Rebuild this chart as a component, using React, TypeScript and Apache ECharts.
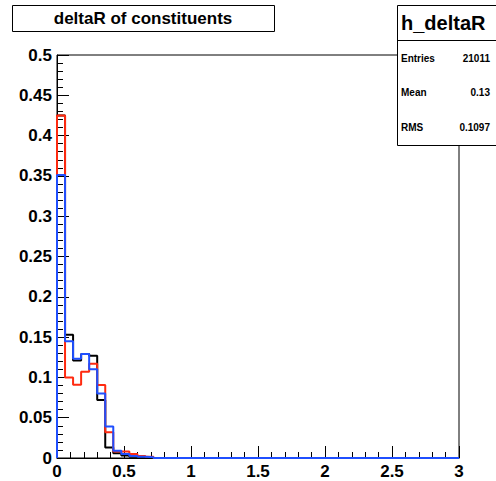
import React, { useEffect, useRef } from "react";
import * as echarts from "echarts";

// Histogram binning: 50 bins of width 0.06 over [0, 3]
const binWidth = 0.06;
const binCount = 50;

// Bin contents (normalised) for the three constituent samples
const blackCounts = [
  0.425, 0.153, 0.121, 0.129, 0.127, 0.072, 0.013, 0.006, 0.003, 0.0015,
  0.001, 0, 0, 0, 0, 0, 0, 0, 0, 0,
  0, 0, 0, 0, 0, 0, 0, 0, 0, 0,
  0, 0, 0, 0, 0, 0, 0, 0, 0, 0,
  0, 0, 0, 0, 0, 0, 0, 0, 0, 0,
];
const redCounts = [
  0.425, 0.1, 0.091, 0.107, 0.117, 0.0906, 0.032, 0.008, 0.008, 0.005,
  0.0025, 0.0015, 0, 0, 0, 0, 0, 0, 0, 0,
  0, 0, 0, 0, 0, 0, 0, 0, 0, 0,
  0, 0, 0, 0, 0, 0, 0, 0, 0, 0,
  0, 0, 0, 0, 0, 0, 0, 0, 0, 0,
];
const blueCounts = [
  0.351, 0.145, 0.123, 0.129, 0.11, 0.08, 0.039, 0.009, 0.005, 0.0025,
  0.0015, 0.001, 0, 0, 0, 0, 0, 0, 0, 0,
  0, 0, 0, 0, 0, 0, 0, 0, 0, 0,
  0, 0, 0, 0, 0, 0, 0, 0, 0, 0,
  0, 0, 0, 0, 0, 0, 0, 0, 0, 0,
];

const titleText = "deltaR of constituents";
const statsName = "h_deltaR";
const statsRows = [
  ["Entries", "21011"],
  ["Mean", "0.13"],
  ["RMS", "0.1097"],
];

const FONT = "Liberation Sans, Arial, Helvetica, sans-serif";

// Turn bin contents into step-line points: [left edge, content] plus closing edge
function stepPoints(counts: number[]): number[][] {
  const pts: number[][] = [[0, 0]];
  for (let i = 0; i < binCount; i++) {
    pts.push([+(i * binWidth).toFixed(4), counts[i]]);
  }
  pts.push([binCount * binWidth, counts[binCount - 1]]);
  return pts;
}

function histSeries(counts: number[], color: string, z: number) {
  return {
    type: "line",
    step: "end",
    data: stepPoints(counts),
    symbol: "none",
    lineStyle: { color, width: 2 },
    z,
    silent: true,
  };
}

export default function App() {
  const ref = useRef<HTMLDivElement>(null);

  useEffect(() => {
    document.body.style.margin = "0";
    if (!ref.current) return;
    const chart = echarts.init(ref.current, null, { renderer: "svg" });

    const statsGraphics: any[] = [
      {
        type: "rect",
        shape: { x: 397.5, y: 5.5, width: 110, height: 140 },
        style: { fill: "#fff", stroke: "#000", lineWidth: 1 },
        z: 100,
      },
      {
        type: "line",
        shape: { x1: 397.5, y1: 40.5, x2: 500, y2: 40.5 },
        style: { stroke: "#000", lineWidth: 1 },
        z: 101,
      },
      {
        type: "text",
        x: 401,
        y: 23,
        style: {
          text: statsName,
          font: `bold 20px ${FONT}`,
          fill: "#000",
          verticalAlign: "middle",
        },
        z: 101,
      },
    ];
    const rowY = [58, 92, 127];
    statsRows.forEach((row, i) => {
      statsGraphics.push({
        type: "text",
        x: 401,
        y: rowY[i],
        style: {
          text: row[0],
          font: `bold 10px ${FONT}`,
          fill: "#000",
          verticalAlign: "middle",
        },
        z: 101,
      });
      statsGraphics.push({
        type: "text",
        x: 490,
        y: rowY[i],
        style: {
          text: row[1],
          font: `bold 10px ${FONT}`,
          fill: "#000",
          align: "right",
          verticalAlign: "middle",
        },
        z: 101,
      });
    });

    chart.setOption({
      animation: false,
      backgroundColor: "#fff",
      grid: {
        left: 57,
        top: 55,
        right: 37,
        bottom: 23,
        show: true,
        borderColor: "#000",
        borderWidth: 1,
        outerBoundsMode: "none",
      },
      xAxis: {
        type: "value",
        min: 0,
        max: 3,
        interval: 0.5,
        axisLine: { show: true, lineStyle: { color: "#000", width: 1 } },
        axisTick: { show: true, inside: true, length: 12, lineStyle: { color: "#000" } },
        minorTick: { show: true, splitNumber: 5, length: 6, lineStyle: { color: "#000" } },
        splitLine: { show: false },
        axisLabel: {
          color: "#000",
          fontFamily: FONT,
          fontWeight: "bold",
          fontSize: 17,
          margin: 5,
          showMinLabel: true,
          showMaxLabel: true,
        },
      },
      yAxis: {
        type: "value",
        min: 0,
        max: 0.5,
        interval: 0.05,
        axisLine: { show: true, lineStyle: { color: "#000", width: 1 } },
        axisTick: { show: true, inside: true, length: 12, lineStyle: { color: "#000" } },
        minorTick: { show: true, splitNumber: 5, length: 6, lineStyle: { color: "#000" } },
        splitLine: { show: false },
        axisLabel: {
          color: "#000",
          fontFamily: FONT,
          fontWeight: "bold",
          fontSize: 17,
          margin: 5,
          formatter: (v: number) => String(+v.toFixed(2)),
        },
      },
      series: [
        histSeries(blackCounts, "#000000", 2),
        histSeries(redCounts, "#ff2a10", 3),
        histSeries(blueCounts, "#1f4fff", 4),
      ],
      graphic: [
        {
          type: "rect",
          shape: { x: 12.5, y: 5.5, width: 262, height: 26 },
          style: { fill: "#fff", stroke: "#000", lineWidth: 1 },
          z: 100,
        },
        {
          type: "text",
          x: 143,
          y: 18,
          style: {
            text: titleText,
            font: `bold 17px ${FONT}`,
            fill: "#000",
            align: "center",
            verticalAlign: "middle",
          },
          z: 101,
        },
        ...statsGraphics,
      ],
    });

    return () => chart.dispose();
  }, []);

  return <div ref={ref} style={{ width: 496, height: 481 }} />;
}
